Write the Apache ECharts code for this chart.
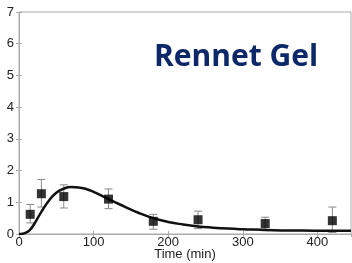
<!DOCTYPE html>
<html>
<head>
<meta charset="utf-8">
<script src="https://cdn.jsdelivr.net/npm/echarts@6/dist/echarts.min.js"></script>
<style>
  html, body { margin: 0; padding: 0; background: #fff; }
  #main { width: 352px; height: 263px; }
</style>
</head>
<body>
<div id="main"></div>
<script>
// measured points (time in min)
var times = [15, 30, 60, 120, 180, 240, 330, 420];
var means = [0.62, 1.27, 1.18, 1.1, 0.4, 0.45, 0.33, 0.42];
var errLow = [0.35, 0.85, 0.82, 0.8, 0.15, 0.17, 0.1, 0.05];
var errHigh = [0.93, 1.72, 1.55, 1.42, 0.62, 0.72, 0.53, 0.85];

// model curve
var curveT = [0, 5, 10, 15, 20, 30, 40, 50, 60, 70, 80, 90, 100, 110, 120, 140, 160, 180, 200, 220, 240, 260, 280, 300, 340, 380, 420, 445];
var curveY = [0, 0.01, 0.05, 0.14, 0.3, 0.7, 1.05, 1.3, 1.43, 1.48, 1.47, 1.42, 1.33, 1.22, 1.1, 0.88, 0.67, 0.5, 0.38, 0.3, 0.24, 0.2, 0.17, 0.15, 0.12, 0.11, 0.1, 0.1];

var chart = echarts.init(document.getElementById('main'));

var pts = times.map(function (t, i) { return [t, means[i]]; });
var errs = times.map(function (t, i) { return [t, errLow[i], errHigh[i]]; });
var curve = curveT.map(function (t, i) { return [t, curveY[i]]; });

var labelFont = { fontFamily: 'Liberation Sans', fontSize: 13, color: '#222' };
var frame = '#aaa';

var option = {
  animation: false,
  title: {
    text: 'Rennet Gel',
    left: 149,
    top: 37,
    textStyle: { fontFamily: 'Open Sans', fontWeight: 'bold', fontSize: 30, color: '#0c2868' }
  },
  grid: { left: 19, right: 1, top: 12, bottom: 29, show: true, borderColor: frame, borderWidth: 1, outerBoundsMode: 'none' },
  xAxis: [{
    type: 'value', min: 0, max: 445, interval: 100,
    name: 'Time (min)', nameLocation: 'middle', nameGap: 14, nameMoveOverlap: false,
    nameTextStyle: labelFont,
    axisLine: { lineStyle: { color: frame } },
    axisTick: { inside: true, length: 3, lineStyle: { color: frame } },
    axisLabel: Object.assign({ margin: 2, showMaxLabel: false }, labelFont),
    splitLine: { show: false }
  }, {
    type: 'value', min: 0, max: 445, interval: 100, position: 'top',
    axisLine: { show: false },
    axisTick: { inside: true, length: 3, lineStyle: { color: frame } },
    axisLabel: { show: false }, splitLine: { show: false }
  }],
  yAxis: [{
    type: 'value', min: 0, max: 7, interval: 1,
    axisLine: { show: true, lineStyle: { color: frame } },
    axisTick: { show: true, inside: true, length: 3, lineStyle: { color: frame } },
    axisLabel: Object.assign({ margin: 5 }, labelFont),
    splitLine: { show: false }
  }, {
    type: 'value', min: 0, max: 7, interval: 1, position: 'right',
    axisLine: { show: false },
    axisTick: { show: true, inside: true, length: 3, lineStyle: { color: frame } },
    axisLabel: { show: false }, splitLine: { show: false }
  }],
  series: [{
    type: 'custom',
    data: errs,
    renderItem: function (params, api) {
      var lo = api.coord([api.value(0), api.value(1)]);
      var hi = api.coord([api.value(0), api.value(2)]);
      var w = 4;
      var st = { stroke: '#888', lineWidth: 1 };
      return {
        type: 'group',
        children: [
          { type: 'line', shape: { x1: lo[0], y1: lo[1], x2: hi[0], y2: hi[1] }, style: st },
          { type: 'line', shape: { x1: lo[0] - w, y1: lo[1], x2: lo[0] + w, y2: lo[1] }, style: st },
          { type: 'line', shape: { x1: hi[0] - w, y1: hi[1], x2: hi[0] + w, y2: hi[1] }, style: st }
        ]
      };
    },
    z: 1
  }, {
    type: 'line',
    data: curve,
    smooth: true,
    showSymbol: false,
    lineStyle: { color: '#111', width: 2.5 },
    z: 2
  }, {
    type: 'scatter',
    data: pts,
    symbol: 'rect',
    symbolSize: 9,
    itemStyle: { color: '#000' },
    z: 3
  }]
};

chart.setOption(option);
</script>
</body>
</html>
